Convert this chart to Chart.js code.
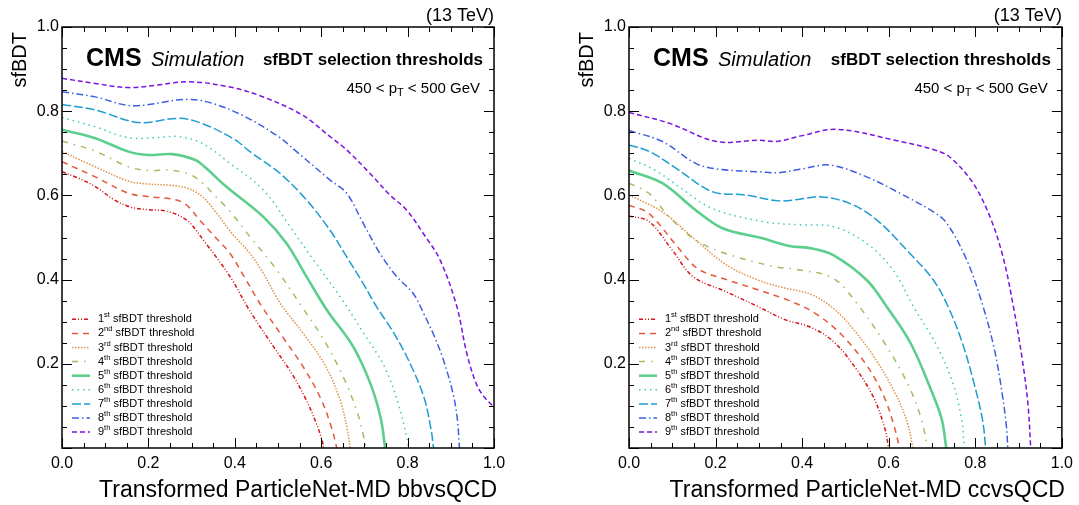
<!DOCTYPE html>
<html>
<head>
<meta charset="utf-8">
<script src="https://cdn.jsdelivr.net/npm/chart.js@4.4.1/dist/chart.umd.min.js"></script>
<style>
  body { margin: 0; background: #fff; overflow: hidden; }
  #wrap { position: relative; width: 1079px; height: 505px; }
  .panel { position: absolute; top: 0; height: 505px; }
</style>
</head>
<body>
<div id="wrap">
  <div class="panel" style="left:0;width:540px"><canvas id="bb"></canvas></div>
  <div class="panel" style="left:540px;width:539px"><canvas id="cc"></canvas></div>
</div>
<script>
// threshold curves, [x, sfBDT]
// bbvsQCD panel
const bb1 = [[0,0.656],[0.04,0.640],[0.077,0.621],[0.12,0.590],[0.16,0.572],[0.2,0.566],[0.245,0.562],[0.29,0.540],[0.33,0.490],[0.389,0.407],[0.431,0.332],[0.48,0.255],[0.53,0.180],[0.565,0.115],[0.59,0.055],[0.603,0.015],[0.605,0]];
const bb2 = [[0,0.680],[0.077,0.644],[0.154,0.605],[0.2,0.597],[0.25,0.592],[0.285,0.580],[0.32,0.540],[0.36,0.495],[0.389,0.462],[0.424,0.403],[0.457,0.345],[0.51,0.265],[0.56,0.190],[0.60,0.115],[0.625,0.045],[0.636,0]];
const bb3 = [[0,0.704],[0.077,0.668],[0.154,0.634],[0.2,0.627],[0.25,0.624],[0.29,0.617],[0.325,0.597],[0.36,0.555],[0.389,0.515],[0.435,0.462],[0.466,0.415],[0.505,0.344],[0.56,0.270],[0.61,0.195],[0.645,0.110],[0.662,0.035],[0.667,0]];
const bb4 = [[0,0.729],[0.077,0.705],[0.154,0.668],[0.2,0.659],[0.25,0.660],[0.29,0.652],[0.319,0.635],[0.358,0.595],[0.389,0.562],[0.435,0.502],[0.497,0.423],[0.555,0.336],[0.61,0.250],[0.655,0.160],[0.685,0.080],[0.700,0.020],[0.705,0]];
const bb5 = [[0,0.756],[0.077,0.736],[0.154,0.704],[0.2,0.696],[0.255,0.698],[0.309,0.684],[0.33,0.668],[0.38,0.621],[0.466,0.549],[0.520,0.486],[0.566,0.407],[0.613,0.328],[0.674,0.241],[0.715,0.150],[0.738,0.070],[0.748,0]];
const bb6 = [[0,0.785],[0.077,0.763],[0.154,0.737],[0.231,0.738],[0.27,0.740],[0.324,0.724],[0.389,0.676],[0.466,0.613],[0.528,0.526],[0.582,0.447],[0.644,0.359],[0.70,0.270],[0.748,0.190],[0.78,0.100],[0.797,0.030],[0.802,0]];
const bb7 = [[0,0.816],[0.077,0.803],[0.177,0.773],[0.27,0.783],[0.324,0.771],[0.401,0.732],[0.435,0.704],[0.505,0.652],[0.566,0.589],[0.620,0.518],[0.659,0.454],[0.697,0.391],[0.728,0.336],[0.77,0.270],[0.806,0.200],[0.838,0.120],[0.855,0.040],[0.86,0]];
const bb8 = [[0,0.846],[0.077,0.834],[0.162,0.813],[0.285,0.828],[0.347,0.819],[0.424,0.787],[0.502,0.739],[0.543,0.704],[0.620,0.637],[0.659,0.605],[0.697,0.534],[0.736,0.462],[0.775,0.407],[0.813,0.367],[0.836,0.322],[0.862,0.265],[0.883,0.209],[0.905,0.130],[0.915,0.070],[0.92,0]];
const bb9 = [[0,0.878],[0.077,0.866],[0.154,0.856],[0.22,0.862],[0.293,0.870],[0.386,0.858],[0.463,0.835],[0.556,0.791],[0.62,0.740],[0.659,0.708],[0.713,0.652],[0.759,0.601],[0.798,0.565],[0.836,0.510],[0.875,0.447],[0.914,0.336],[0.937,0.225],[0.96,0.150],[0.98,0.118],[1.0,0.098]];

// ccvsQCD panel
const cc1 = [[0,0.551],[0.046,0.538],[0.10,0.470],[0.148,0.407],[0.225,0.371],[0.30,0.335],[0.36,0.305],[0.417,0.288],[0.47,0.255],[0.52,0.195],[0.565,0.120],[0.59,0.050],[0.600,0]];
const cc2 = [[0,0.577],[0.046,0.557],[0.115,0.474],[0.16,0.425],[0.225,0.400],[0.30,0.375],[0.37,0.350],[0.43,0.320],[0.49,0.270],[0.55,0.195],[0.59,0.120],[0.613,0.050],[0.625,0]];
const cc3 = [[0,0.601],[0.077,0.561],[0.154,0.494],[0.225,0.435],[0.30,0.398],[0.36,0.380],[0.42,0.365],[0.472,0.332],[0.52,0.280],[0.57,0.210],[0.615,0.130],[0.643,0.060],[0.656,0]];
const cc4 = [[0,0.629],[0.046,0.605],[0.092,0.550],[0.154,0.494],[0.223,0.462],[0.34,0.430],[0.395,0.423],[0.472,0.403],[0.526,0.344],[0.59,0.250],[0.645,0.150],[0.675,0.070],[0.690,0]];
const cc5 = [[0,0.659],[0.077,0.629],[0.154,0.565],[0.216,0.522],[0.308,0.498],[0.370,0.480],[0.423,0.474],[0.472,0.458],[0.549,0.399],[0.595,0.336],[0.65,0.250],[0.695,0.145],[0.722,0.070],[0.733,0]];
const cc6 = [[0,0.688],[0.06,0.660],[0.115,0.621],[0.192,0.569],[0.308,0.538],[0.395,0.530],[0.472,0.526],[0.549,0.486],[0.610,0.423],[0.657,0.336],[0.71,0.245],[0.748,0.155],[0.768,0.070],[0.775,0]];
const cc7 = [[0,0.720],[0.05,0.703],[0.115,0.660],[0.192,0.609],[0.269,0.601],[0.346,0.587],[0.395,0.591],[0.441,0.597],[0.510,0.581],[0.572,0.542],[0.649,0.462],[0.703,0.399],[0.737,0.336],[0.77,0.250],[0.798,0.150],[0.817,0.065],[0.824,0]];
const cc8 = [[0,0.754],[0.077,0.728],[0.154,0.676],[0.208,0.662],[0.302,0.656],[0.346,0.654],[0.395,0.662],[0.464,0.672],[0.549,0.644],[0.626,0.605],[0.703,0.561],[0.734,0.534],[0.780,0.447],[0.818,0.336],[0.845,0.230],[0.862,0.130],[0.872,0.050],[0.875,0]];
const cc9 = [[0,0.797],[0.094,0.771],[0.202,0.728],[0.302,0.731],[0.340,0.728],[0.40,0.742],[0.479,0.757],[0.610,0.732],[0.718,0.704],[0.749,0.684],[0.795,0.629],[0.834,0.549],[0.864,0.454],[0.888,0.336],[0.910,0.200],[0.922,0.100],[0.928,0]];

const ordinals = [['1','st'],['2','nd'],['3','rd'],['4','th'],['5','th'],['6','th'],['7','th'],['8','th'],['9','th']];
const legendText = ' sfBDT threshold';
const xTickValues = [0, 0.2, 0.4, 0.6, 0.8, 1.0];
const yTickValues = [0.2, 0.4, 0.6, 0.8, 1.0];

const COLORS = ['#d7141a', '#e4573a', '#e39147', '#9fbf62', '#5dcf8c', '#3ec8be', '#1e9cd0', '#3d5fe0', '#7a14e0'];
const DASHES = [[4,2,1,2,1,2], [6,5], [1.5,1.5], [6,6,1.5,6], [], [1.5,4], [9,3], [7,3,1.5,3], [5,3]];
const WIDTHS = [1.5, 1.5, 1.5, 1.5, 2.6, 1.5, 1.5, 1.5, 1.5];
const FONT = '"Liberation Sans", Arial, Helvetica, sans-serif';

Chart.defaults.animation = false;
Chart.defaults.font.family = FONT;

const decorPlugin = {
  id: 'decor',
  afterDraw(chart) {
    const ctx = chart.ctx;
    const a = chart.chartArea;
    const xs = chart.scales.x, ys = chart.scales.y;
    const opts = chart.options.plugins.decor;
    ctx.save();
    ctx.fillStyle = '#000';
    ctx.strokeStyle = '#000';

    // inward ticks on all four sides
    ctx.lineWidth = 1;
    ctx.setLineDash([]);
    for (let i = 0; i <= 20; i++) {
      const v = i * 0.05;
      const len = i % 4 === 0 ? 10 : 5;
      const px = Math.round(xs.getPixelForValue(v)) + 0.5;
      const py = Math.round(ys.getPixelForValue(v)) + 0.5;
      ctx.beginPath();
      ctx.moveTo(px, a.bottom); ctx.lineTo(px, a.bottom - len);
      ctx.moveTo(px, a.top); ctx.lineTo(px, a.top + len);
      ctx.moveTo(a.left, py); ctx.lineTo(a.left + len, py);
      ctx.moveTo(a.right, py); ctx.lineTo(a.right - len, py);
      ctx.stroke();
    }
    // frame
    ctx.lineWidth = 1.5;
    ctx.strokeRect(a.left, a.top, a.right - a.left, a.bottom - a.top);

    // energy label
    ctx.textBaseline = 'alphabetic';
    ctx.textAlign = 'right';
    ctx.font = '18px ' + FONT;
    ctx.fillText('(13 TeV)', a.right, a.top - 6);

    // axis titles
    ctx.font = '23px ' + FONT;
    ctx.fillText(opts.xTitle, a.right + 3, a.bottom + 49);
    ctx.save();
    ctx.translate(a.left - 42, a.top + 5);
    ctx.rotate(-Math.PI / 2);
    ctx.textBaseline = 'middle';
    ctx.font = '20px ' + FONT;
    ctx.fillText('sfBDT', 0, 0);
    ctx.restore();

    // CMS Simulation
    ctx.textAlign = 'left';
    ctx.font = 'bold 25px ' + FONT;
    ctx.fillText('CMS', a.left + 24, a.top + 39);
    ctx.font = 'italic 20px ' + FONT;
    ctx.fillText('Simulation', a.left + 89, a.top + 39);
    ctx.textAlign = 'right';
    ctx.font = 'bold 17px ' + FONT;
    ctx.fillText('sfBDT selection thresholds', a.right - 11, a.top + 38);

    // pT bin with subscript
    ctx.textAlign = 'left';
    const partA = '450 < p', partB = 'T', partC = ' < 500 GeV';
    ctx.font = '15px ' + FONT;
    const wA = ctx.measureText(partA).width, wC = ctx.measureText(partC).width;
    ctx.font = '11px ' + FONT;
    const wB = ctx.measureText(partB).width;
    let tx = a.right - 14 - (wA + wB + wC);
    const ty = a.top + 66;
    ctx.font = '15px ' + FONT;
    ctx.fillText(partA, tx, ty); tx += wA;
    ctx.font = '11px ' + FONT;
    ctx.fillText(partB, tx, ty + 3); tx += wB;
    ctx.font = '15px ' + FONT;
    ctx.fillText(partC, tx, ty);

    // legend
    chart.data.datasets.forEach((ds, i) => {
      const cy = a.top + 292.3 + i * 14.1;
      ctx.strokeStyle = ds.borderColor;
      ctx.lineWidth = ds.borderWidth;
      ctx.setLineDash(ds.borderDash);
      ctx.beginPath();
      ctx.moveTo(a.left + 10, cy);
      ctx.lineTo(a.left + 28, cy);
      ctx.stroke();
      ctx.setLineDash([]);
      let lx = a.left + 36;
      ctx.textBaseline = 'middle';
      ctx.font = '11px ' + FONT;
      ctx.fillText(ordinals[i][0], lx, cy);
      lx += ctx.measureText(ordinals[i][0]).width;
      ctx.font = '7.5px ' + FONT;
      ctx.fillText(ordinals[i][1], lx, cy - 4);
      lx += ctx.measureText(ordinals[i][1]).width;
      ctx.font = '11px ' + FONT;
      ctx.fillText(legendText, lx, cy);
    });
    ctx.restore();
  }
};

function makeDatasets(curves) {
  return curves.map((pts, i) => ({
    label: ordinals[i].join('') + legendText,
    data: pts.map(p => ({ x: p[0], y: p[1] })),
    borderColor: COLORS[i],
    borderWidth: WIDTHS[i],
    borderDash: DASHES[i],
    pointRadius: 0,
    fill: false,
    tension: 0.35
  }));
}

function makeChart(id, curves, xTitle, axisWidth, padRight) {
  return new Chart(document.getElementById(id), {
    type: 'line',
    data: { datasets: makeDatasets(curves) },
    options: {
      responsive: true,
      maintainAspectRatio: false,
      layout: { padding: { top: 27, right: padRight, left: 0, bottom: 0 } },
      plugins: {
        legend: { display: false },
        tooltip: { enabled: false },
        decor: { xTitle: xTitle }
      },
      scales: {
        x: {
          type: 'linear', min: 0, max: 1,
          afterFit: s => { s.height = 57; },
          afterBuildTicks: s => { s.ticks = xTickValues.map(v => ({ value: v })); },
          grid: { display: false, drawTicks: false },
          border: { display: false },
          ticks: { color: '#000', padding: 6, font: { size: 16 }, maxRotation: 0,
                   callback: v => Number(v).toFixed(1) }
        },
        y: {
          type: 'linear', min: 0, max: 1,
          afterFit: s => { s.width = axisWidth; },
          afterBuildTicks: s => { s.ticks = yTickValues.map(v => ({ value: v })); },
          grid: { display: false, drawTicks: false },
          border: { display: false },
          ticks: { color: '#000', padding: 3, font: { size: 16 },
                   callback: v => Number(v).toFixed(1) }
        }
      }
    },
    plugins: [decorPlugin]
  });
}

makeChart('bb', [bb1, bb2, bb3, bb4, bb5, bb6, bb7, bb8, bb9], 'Transformed ParticleNet-MD bbvsQCD', 62, 46);
makeChart('cc', [cc1, cc2, cc3, cc4, cc5, cc6, cc7, cc8, cc9], 'Transformed ParticleNet-MD ccvsQCD', 89, 17);
</script>
</body>
</html>
